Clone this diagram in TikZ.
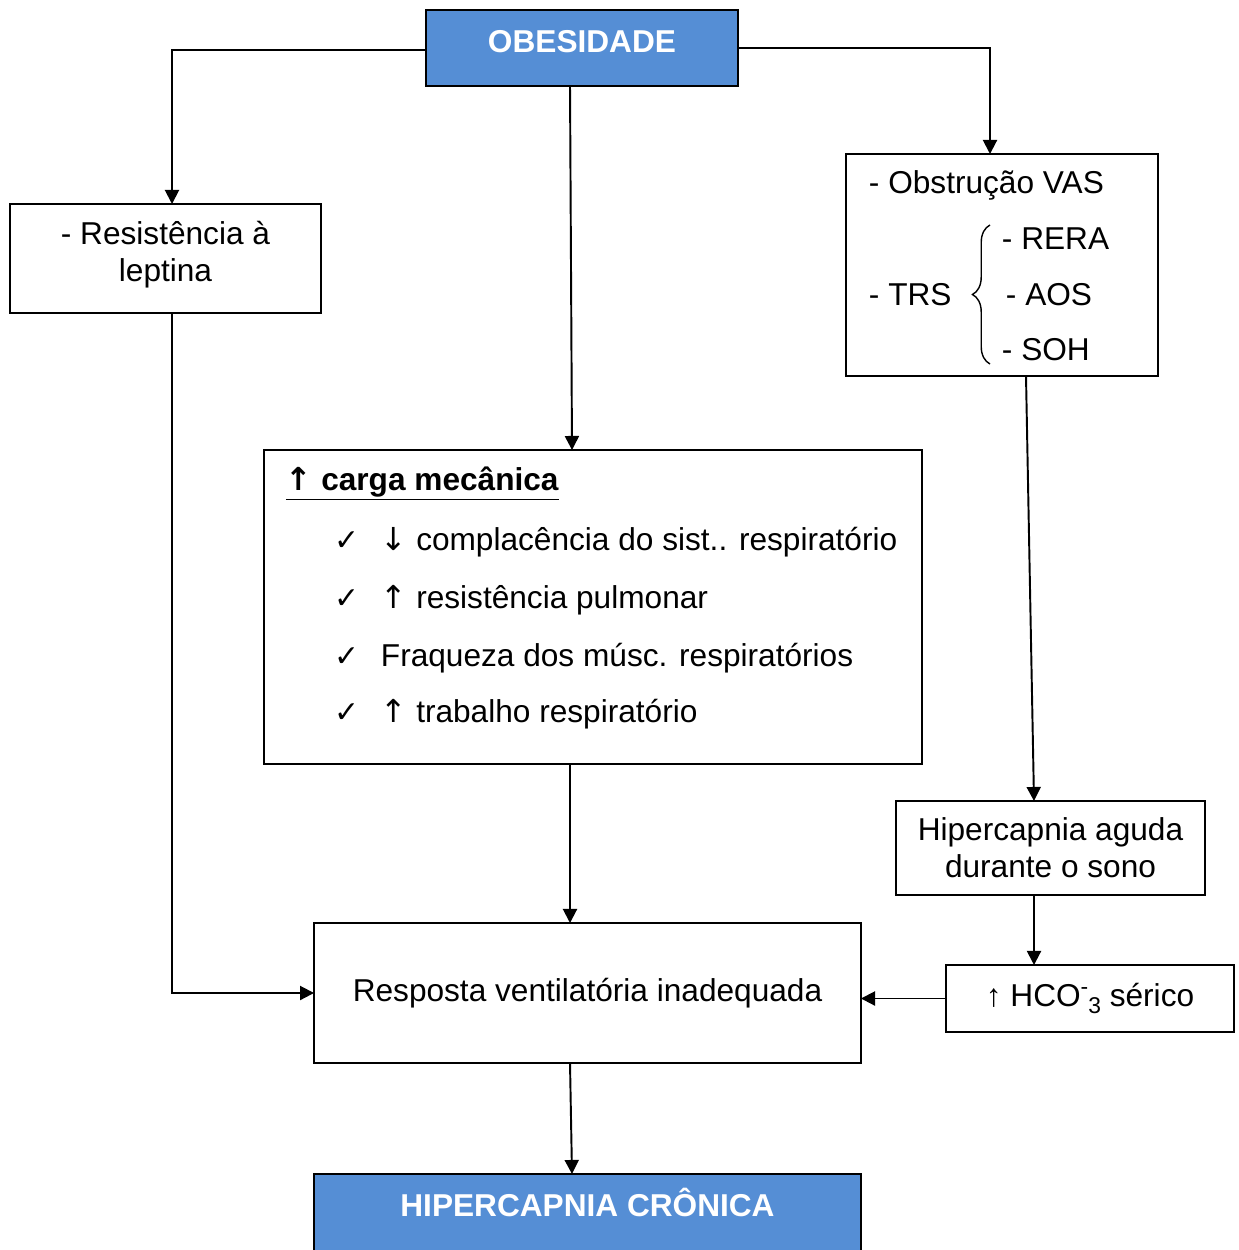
\documentclass[tikz,border=0pt]{standalone}
\usepackage{fontspec}
\setmainfont{Liberation Sans}
\newfontfamily\checkfont{DejaVu Sans}
\usetikzlibrary{arrows.meta,decorations.pathreplacing}
\definecolor{headblue}{HTML}{558ED5}

\begin{document}
\begin{tikzpicture}[
  x=0.02cm, y=-0.02cm,
  >={Triangle[length=8pt,width=8pt]},
  line width=1.1pt,
  font=\fontsize{18}{21}\selectfont,
  box/.style={rectangle, draw, outer sep=0pt, inner sep=0pt, align=center},
  headbox/.style={box, fill=headblue, anchor=north, text=white, font=\fontsize{18}{21}\selectfont\bfseries, inner ysep=11pt, text height=13pt},
  item/.style={anchor=base west, inner sep=0pt},
  flow/.style={->, draw=black, line width=1.1pt}
]
  \useasboundingbox (0,0) rectangle (1238,1250);

  % boxes
  \node[headbox, minimum width=6.24cm, text depth=8pt] (obes) at (582,10) {OBESIDADE};
  \node[box, minimum width=6.22cm, minimum height=2.18cm] (resist) at (165.5,258.5) {};
  \node[align=center, inner sep=0pt] (resisttxt) at (165.5,254.5) {- Resistência à\\leptina};
  \node[box, minimum width=6.24cm, minimum height=4.44cm] (obstr) at (1002,265) {};
  \node[box, minimum width=13.16cm, minimum height=6.28cm] (carga) at (593,607) {};
  \node[box, minimum width=6.18cm, minimum height=1.88cm] (aguda) at (1050.5,848) {Hipercapnia aguda\\durante o sono};
  \node[box, minimum width=5.76cm, minimum height=1.34cm] (hco) at (1090,998.5) {↑ HCO\raisebox{0.7ex}{\fontsize{13}{15}\selectfont -}\raisebox{-0.45ex}{\fontsize{13}{15}\selectfont 3} sérico};
  \node[box, minimum width=10.94cm, minimum height=2.8cm] (resp) at (587.5,993) {Resposta ventilatória inadequada};
  \node[headbox, minimum width=10.94cm, text depth=40pt] (cronica) at (587.5,1174) {HIPERCAPNIA CRÔNICA};

  % obstrucao VAS / TRS
  \node[item] (vas) at (868,194) {- Obstrução VAS};
  \node[item] (trs) at (868,305) {- TRS};
  \node[item] (rera) at (1001,249) {- RERA};
  \node[item] (aos) at (1005,305) {- AOS};
  \node[item] (soh) at (1001,360) {- SOH};
  \draw[decorate, decoration={brace, amplitude=10pt}, line width=0.8pt] (990,364) -- (990,225);

  % carga mecanica
  \node[item, font=\fontsize{18}{21}\selectfont\bfseries] (cargatit) at (285,490) {\underline{{\checkfont ↑} carga mecânica}};
  \foreach \yy/\txt [count=\i] in {550/{{\checkfont ↓} complacência do sist.. respiratório},
      608/{{\checkfont ↑} resistência pulmonar},
      666/{Fraqueza dos músc. respiratórios},
      722/{{\checkfont ↑} trabalho respiratório}} {
    \node[item] (chk\i) at (334,\yy) {\checkfont\fontsize{17}{20}\selectfont ✓};
    \node[item] (itm\i) at (380,\yy) {\txt};
  }

  % connectors
  \draw[flow] ([yshift=-0.05cm]obes.west) -| ([xshift=0.13cm]resist.north);
  \draw[flow] (obes.east) -| ([xshift=-0.24cm]obstr.north);
  \draw[flow] ([xshift=-0.24cm]obes.south) -- ([xshift=-0.42cm]carga.north);
  \draw[flow] ([xshift=0.13cm]resist.south) |- (resp.west);
  \draw[flow] ([xshift=0.48cm]obstr.south) -- ([xshift=-0.33cm]aguda.north);
  \draw[flow] ([xshift=-0.46cm]carga.south) -- ([xshift=-0.35cm]resp.north);
  \draw[flow] ([xshift=-0.33cm]aguda.south) -- ([xshift=-1.12cm]hco.north);
  \draw[flow] (hco.west) -- (hco.west -| resp.east);
  \draw[flow] ([xshift=-0.35cm]resp.south) -- ([xshift=-0.31cm]cronica.north);
\end{tikzpicture}
\end{document}
